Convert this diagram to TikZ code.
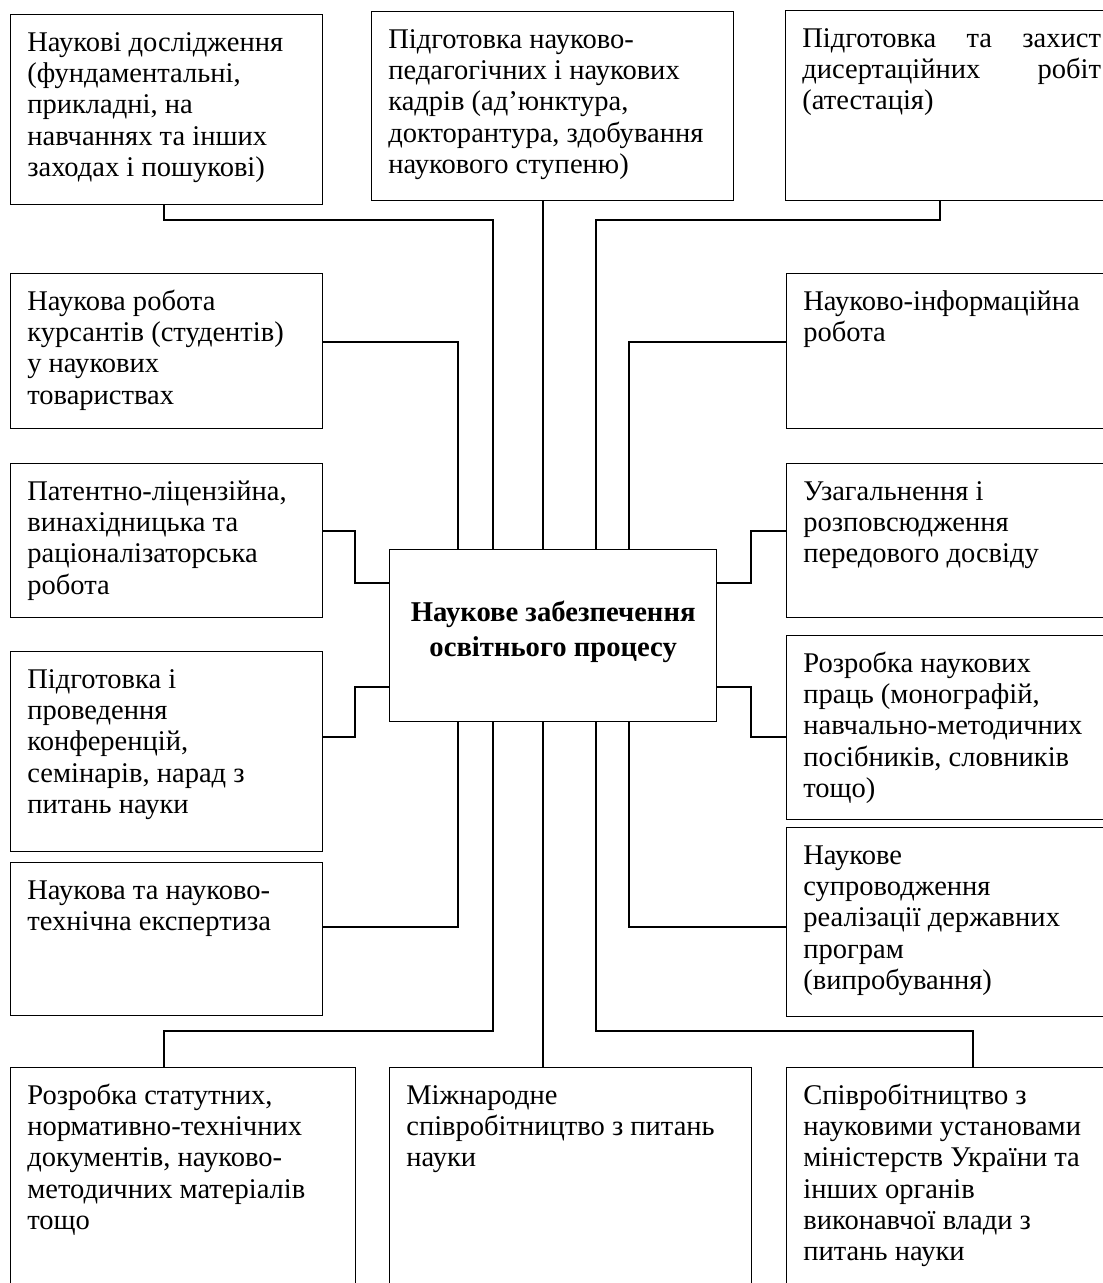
\documentclass[tikz,border=0pt]{standalone}
\usepackage{fontspec}
\setmainfont{Liberation Serif}
\usepackage{tikz}

\newcommand{\cellbox}[3]{\parbox[c][\dimexpr #2pt*3/4-22pt\relax][t]{\dimexpr #1pt*3/4-25pt\relax}{\raggedright\strut #3}}

\begin{document}
\begin{tikzpicture}[x=0.75pt,y=-0.75pt,
	cell/.style={draw,line width=1pt,anchor=north west,inner xsep=12.5pt,inner ysep=11pt,font=\fontsize{21.4}{23.5}\selectfont},
	hub/.style={draw,line width=1pt,anchor=north west,minimum width=245.25pt,minimum height=129pt,align=center,font=\fontsize{21.5}{26}\selectfont\bfseries},
	link/.style={line width=1pt}]
	\useasboundingbox (0,0) rectangle (1103,1283);
	\clip (0,0) rectangle (1103,1283);
	
	\foreach \n/\x in {a/458,b/493,c/543,d/596,e/629,lx/355,rx/751,tlx/164,trx/940,blx/164,brx/973}
		\coordinate (\n) at (\x,0);
	\foreach \n/\y in {h1/342,h2/531,h3/737,h4/927,y1/583,y2/687,topbus/220,botbus/1031}
		\coordinate (\n) at (0,\y);
	
	%CENTRE
	\node[hub] (ctr) at (389,549) {Наукове забезпечення\\ освітнього процесу\\[-16pt]};
	
	%TOP ROW
	\node[cell] (tl) at (10,14) {\cellbox{312}{190}{Наукові дослідження\\ (фундаментальні,\\ прикладні, на\\ навчаннях та інших\\ заходах і пошукові)}};
	\node[cell] (tm) at (371,11) {\cellbox{362}{189}{Підготовка науково-\\ педагогічних і наукових\\ кадрів (ад’юнктура,\\ докторантура, здобування\\ наукового ступеню)}};
	\node[cell] (tr) at (785,10) {\cellbox{332}{190}{Підготовка\hfill та\hfill захист\\ дисертаційних\hfill робіт\\ (атестація)}};
	
	%LEFT COLUMN
	\node[cell] (l1) at (10,273) {\cellbox{312}{155}{Наукова робота\\ курсантів (студентів)\\ у наукових\\ товариствах}};
	\node[cell] (l2) at (10,463) {\cellbox{312}{154}{Патентно-ліцензійна,\\ винахідницька та\\ раціоналізаторська\\ робота}};
	\node[cell] (l3) at (10,651) {\cellbox{312}{200}{Підготовка і\\ проведення\\ конференцій,\\ семінарів, нарад з\\ питань науки}};
	\node[cell] (l4) at (10,862) {\cellbox{312}{153}{Наукова та науково-\\ технічна експертиза}};
	
	%RIGHT COLUMN
	\node[cell] (r1) at (786,273) {\cellbox{331}{155}{Науково-інформаційна\\ робота}};
	\node[cell] (r2) at (786,463) {\cellbox{331}{154}{Узагальнення і\\ розповсюдження\\ передового досвіду}};
	\node[cell] (r3) at (786,635) {\cellbox{331}{184}{Розробка наукових\\ праць (монографій,\\ навчально-методичних\\ посібників, словників\\ тощо)}};
	\node[cell] (r4) at (786,827) {\cellbox{331}{189}{Наукове\\ супроводження\\ реалізації державних\\ програм\\ (випробування)}};
	
	%BOTTOM ROW
	\node[cell] (bl) at (10,1067) {\cellbox{345}{240}{Розробка статутних,\\ нормативно-технічних\\ документів, науково-\\ методичних матеріалів\\ тощо}};
	\node[cell] (bm) at (389,1067) {\cellbox{362}{240}{Міжнародне\\ співробітництво з питань\\ науки}};
	\node[cell] (br) at (786,1067) {\cellbox{331}{240}{Співробітництво з\\ науковими установами\\ міністерств України та\\ інших органів\\ виконавчої влади з\\ питань науки}};
	
	%TOP LINKS
	\draw[link] (tlx |- tl.south) |- (topbus -| b) -- (b |- ctr.north);
	\draw[link] (c |- tm.south) -- (c |- ctr.north);
	\draw[link] (trx |- tr.south) |- (topbus -| d) -- (d |- ctr.north);
	
	%LEFT LINKS
	\draw[link] (l1.east |- h1) -| (a |- ctr.north);
	\draw[link] (l2.east |- h2) -| (lx |- y1) -- (ctr.west |- y1);
	\draw[link] (l3.east |- h3) -| (lx |- y2) -- (ctr.west |- y2);
	\draw[link] (l4.east |- h4) -| (a |- ctr.south);
	
	%RIGHT LINKS
	\draw[link] (r1.west |- h1) -| (e |- ctr.north);
	\draw[link] (r2.west |- h2) -| (rx |- y1) -- (ctr.east |- y1);
	\draw[link] (r3.west |- h3) -| (rx |- y2) -- (ctr.east |- y2);
	\draw[link] (r4.west |- h4) -| (e |- ctr.south);
	
	%BOTTOM LINKS
	\draw[link] (b |- ctr.south) |- (botbus -| blx) -- (blx |- bl.north);
	\draw[link] (c |- ctr.south) -- (c |- bm.north);
	\draw[link] (d |- ctr.south) |- (botbus -| brx) -- (brx |- br.north);
\end{tikzpicture}
\end{document}
